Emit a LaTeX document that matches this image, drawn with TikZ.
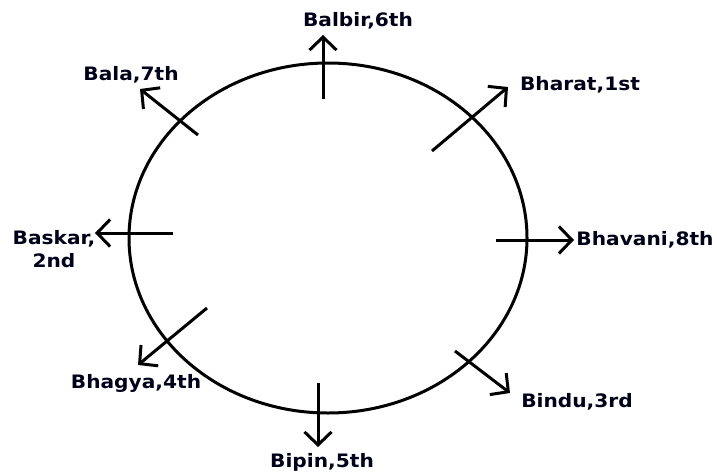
\documentclass[tikz,border=0pt]{standalone}
\usepackage{fontspec}
\newfontfamily\lblfont{DejaVu Sans}[FakeStretch=1.09]
\usetikzlibrary{arrows.meta}
\tikzset{
  lbl/.style={font=\lblfont\bfseries\fontsize{18.5}{23.5}\selectfont, inner sep=0pt, align=center, text=black!90!blue},
  arr/.style={line width=3pt, -{Straight Barb[length=13pt,width=27pt,line width=3pt]}},
  ring/.style={line width=3pt}
}
\begin{document}
\begin{tikzpicture}[x=1pt,y=-1pt]
\fill[white] (0,0) rectangle (717,474);
\useasboundingbox (0,0) rectangle (717,474);
\draw[ring] (328,238) ellipse [x radius=199pt, y radius=175pt];
% labels
\node[lbl] (balbir)  at (358,21)  {Balbir,6th};
\node[lbl] (bharat)  at (580,85)  {Bharat,1st};
\node[lbl] (bhavani) at (645,240) {Bhavani,8th};
\node[lbl] (bindu)   at (577,402) {Bindu,3rd};
\node[lbl] (bipin)   at (322,462) {Bipin,5th};
\node[lbl] (bhagya)  at (136,383) {Bhagya,4th};
\node[lbl] (baskar)  at (54,249)  {Baskar,\\2nd};
\node[lbl] (bala)    at (131,75)  {Bala,7th};
% arrow ends
\coordinate (s6) at (323,99);  \coordinate (t6) at (323,35);
\coordinate (s1) at (432,151); \coordinate (t1) at (508,87);
\coordinate (s8) at (496,240); \coordinate (t8) at (574,240);
\coordinate (s3) at (455,351); \coordinate (t3) at (510,393);
\coordinate (s5) at (318,383); \coordinate (t5) at (318,447);
\coordinate (s4) at (207,308); \coordinate (t4) at (138,365);
\coordinate (s2) at (173,233); \coordinate (t2) at (95,233);
\coordinate (s7) at (198,135); \coordinate (t7) at (140,89);
\foreach \i in {1,...,8} \draw[arr] (s\i) -- (t\i);
\end{tikzpicture}
\end{document}
